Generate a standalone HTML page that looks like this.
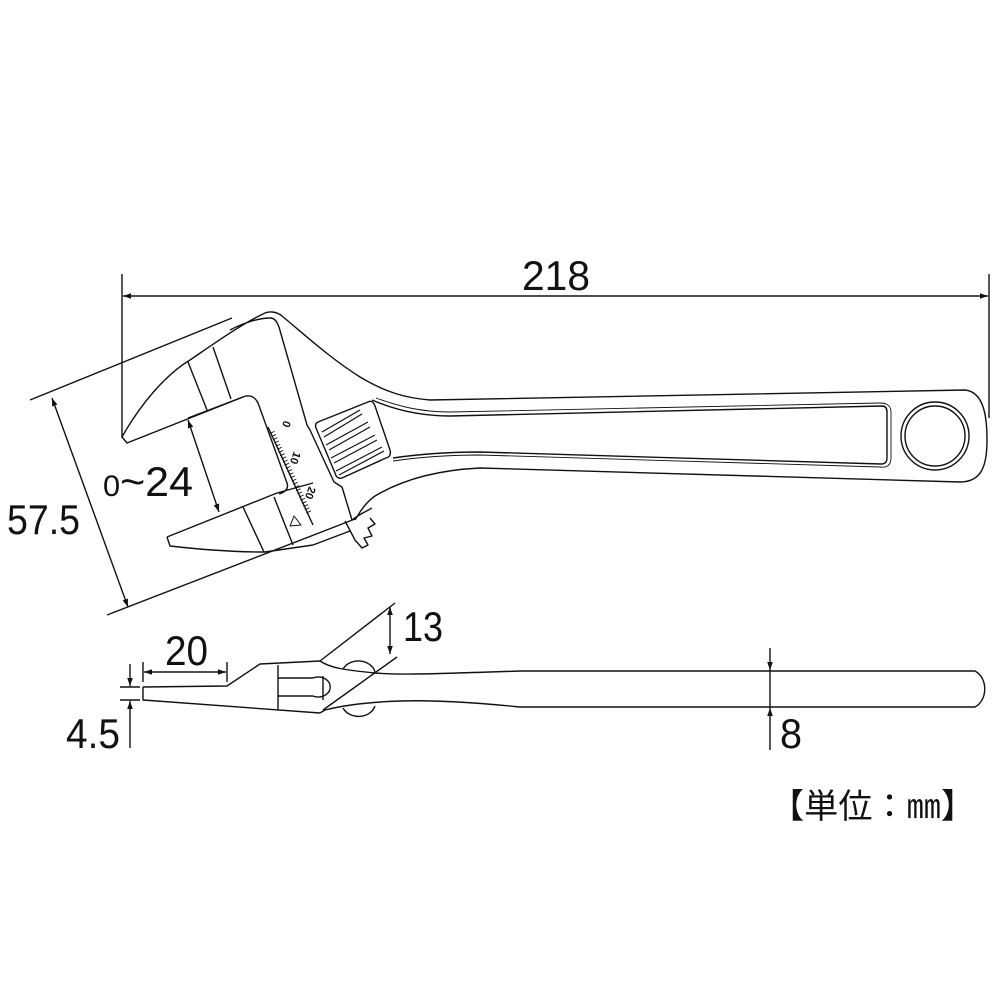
<!DOCTYPE html>
<html><head><meta charset="utf-8"><style>
html,body{margin:0;padding:0;background:#fff}
svg{display:block}
text{font-family:"Liberation Sans","Noto Sans CJK JP",sans-serif;fill:#111}
</style></head><body>
<svg width="1000" height="1000" viewBox="0 0 1000 1000" xmlns="http://www.w3.org/2000/svg">
<defs>
<marker id="a" viewBox="0 0 10 10" refX="10" refY="5" markerWidth="12" markerHeight="8" orient="auto-start-reverse" markerUnits="userSpaceOnUse"><path d="M0,1.5 L10,5 L0,8.5 z" fill="#111"/></marker>
</defs>
<g fill="none" stroke="#111" stroke-width="1.4" stroke-linejoin="round">
<line x1="122" y1="274" x2="122" y2="438"/>
<line x1="989" y1="274" x2="989" y2="418"/>
<line x1="123" y1="296" x2="988" y2="296" marker-start="url(#a)" marker-end="url(#a)"/>
<line x1="30" y1="400" x2="232" y2="318"/>
<line x1="107" y1="615" x2="355" y2="519"/>
<line x1="52" y1="398" x2="128" y2="607" marker-start="url(#a)" marker-end="url(#a)"/>
<line x1="188" y1="420" x2="219" y2="512" marker-start="url(#a)" marker-end="url(#a)"/>

<path d="M122,437 C140,405 165,375 190,360 C215,343 240,325 263,314 C268,311 276,311 282,316 C305,335 330,358 360,377 C385,392 405,398 430,400 L965,390 C985,392 987,420 987,440 C987,465 982,482 960,482 L480,468 C440,470 405,478 375,496 C365,503 360,512 355,520"/>
<path d="M122,437 L127,443 L243,397"/>
<path d="M230,330 C245,322 260,318 270,318 C275,318 277,322 279,327 L307,425 L310,430 L334,482 L342,487 L352,520"/>
<line x1="188" y1="362" x2="207" y2="410"/>
<line x1="213" y1="347" x2="231" y2="399"/>
<path d="M188,418 L243,397 C250,394 255,397 258,403 L287,483 C289,489 285,492 279,494"/>
<path d="M167,537 L277,493 L313,483"/>
<path d="M167,537 L170,546 C205,550 240,552 265,552 L313,545"/>
<line x1="243" y1="507" x2="264" y2="552"/>
<line x1="274" y1="497" x2="293" y2="545"/>
<path d="M313,545 L350,531"/>
<line x1="268" y1="427" x2="313" y2="525"/>
<line x1="272" y1="432" x2="309" y2="513" stroke-width="5" stroke-dasharray="0.9 2.6"/>
<path d="M294,516 L301,525 L290,526 z" stroke-width="1"/>
<path d="M345,521 L355,540 L362,548 L368,545 L364,538 L372,536 L368,528 L375,524 L370,518"/>
<path d="M352,520 C358,515 365,512 372,508"/>
<path d="M318,422 L368,402 C372,400 374,403 375,406 L390,450 C391,454 390,457 386,458 L342,478 C338,479 336,477 335,473 L316,428 C315,425 316,423 318,422 z"/>
<g stroke-width="1.2">
<path d="M322,432 L360,410 M324,437 L362,414"/>
<path d="M326,445 L368,422 M329,450 L370,427"/>
<path d="M331,458 L375,435 M334,463 L377,440"/>
<path d="M336,471 L382,447 M339,475 L384,451"/>
</g>
<path d="M372,400 C395,410 420,416 450,416 L882,406 C886,406 887,409 887,412 L887,458 C887,462 885,464 881,464 L480,452 C445,452 420,454 393,458"/>
<path d="M376,398 C398,406 420,412 450,412 L880,403 C888,403 891,407 891,412 L891,458 C891,465 887,468 880,467 L480,455 C445,455 420,457 393,461" stroke-width="0.9"/>
<circle cx="935" cy="436" r="34"/>
<circle cx="935" cy="436" r="30"/>

<path d="M143,687 L143,700 L320,713"/>
<path d="M143,687 L227,686 L260,664 L320,661"/>
<path d="M278,665 L278,710"/>
<path d="M278,678 L313,678 M278,696 L313,696"/>
<path d="M313,678 A12,10 0 1 1 313,696"/>
<line x1="323" y1="676" x2="323" y2="700"/>
<path d="M320,661 C330,668 345,670 375,673 C400,675 430,674 520,671 L975,671 C988,678 988,700 975,707 L520,707 C470,702 430,700 400,701 C370,702 345,705 325,710 L320,713"/>
<path d="M343,669 A17,14 0 0 1 375,672"/>
<path d="M343,708 A17,14 0 0 0 375,706"/>
<line x1="320" y1="661" x2="395" y2="603"/>
<line x1="323" y1="710" x2="397" y2="657"/>
<line x1="390" y1="607" x2="390" y2="654" marker-start="url(#a)" marker-end="url(#a)"/>
<line x1="143" y1="662" x2="143" y2="682"/>
<line x1="227" y1="662" x2="227" y2="682"/>
<line x1="144" y1="672" x2="226" y2="672" marker-start="url(#a)" marker-end="url(#a)"/>
<line x1="120" y1="687" x2="140" y2="687"/>
<line x1="120" y1="700" x2="140" y2="700"/>
<line x1="130" y1="664" x2="130" y2="686" marker-end="url(#a)"/>
<line x1="130" y1="748" x2="130" y2="701" marker-end="url(#a)"/>
<line x1="770" y1="648" x2="770" y2="670" marker-end="url(#a)"/>
<line x1="770" y1="750" x2="770" y2="708" marker-end="url(#a)"/>
<line x1="770" y1="670" x2="770" y2="708"/>
</g>
<g font-size="11" font-weight="bold">
<text transform="translate(284,420) rotate(110)">0</text>
<text transform="translate(294,451) rotate(110)">10</text>
<text transform="translate(309,486) rotate(110)">20</text>
</g>
<g font-size="42" lengthAdjust="spacingAndGlyphs">
<text x="522" y="290" textLength="68" lengthAdjust="spacingAndGlyphs">218</text>
<text x="7" y="534" textLength="73" lengthAdjust="spacingAndGlyphs">57.5</text>
<text x="103" y="496" textLength="90" lengthAdjust="spacingAndGlyphs"><tspan font-size="30">0</tspan>~24</text>
<text x="165" y="665" textLength="43" lengthAdjust="spacingAndGlyphs">20</text>
<text x="403" y="641" textLength="40" lengthAdjust="spacingAndGlyphs">13</text>
<text x="66" y="748" textLength="54" lengthAdjust="spacingAndGlyphs">4.5</text>
<text x="780" y="748" textLength="22" lengthAdjust="spacingAndGlyphs">8</text>
</g>
<text x="770" y="818" font-size="34" textLength="205" lengthAdjust="spacingAndGlyphs">【単位：㎜】</text>
</svg>
</body></html>
